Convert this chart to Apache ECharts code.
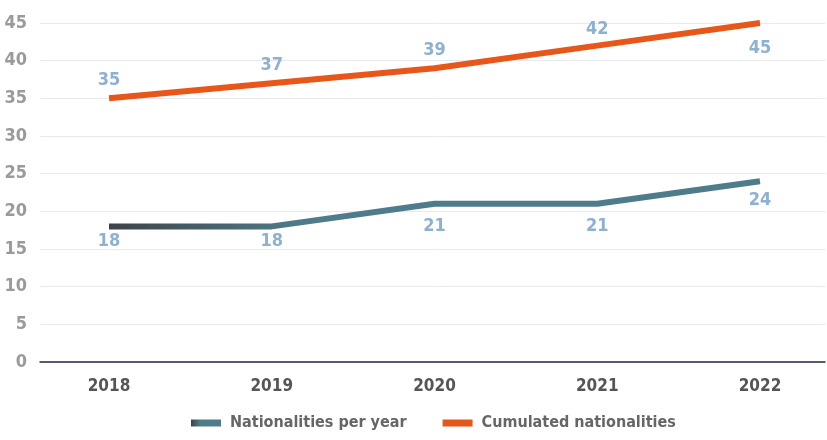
<!DOCTYPE html>
<html>
<head>
<meta charset="utf-8">
<script src="https://cdn.jsdelivr.net/npm/echarts@6/dist/echarts.min.js"></script>
<style>
  html, body { margin: 0; padding: 0; background: #fff; }
  #chart { width: 827px; height: 440px; }
</style>
</head>
<body>
<div id="chart"></div>
<script>
var years = ['2018', '2019', '2020', '2021', '2022'];
var perYear = [18, 18, 21, 21, 24];
var cumulated = [35, 37, 39, 42, 45];
var yMin = 0, yMax = 45, yStep = 5;

var FONT = "'Liberation Sans Narrow', 'DejaVu Sans Condensed', sans-serif";
var labelBlue = '#8eb0d1';

// label gaps as placed in the original
var perYearGap = [6, 6, 14, 14, 10];
var cumGap = [9, 9, 9, 7, 16];

var myChart = echarts.init(document.getElementById('chart'));

// teal line fades in from dark grey at the start
var tealGrad = new echarts.graphic.LinearGradient(0, 0, 1, 0, [
	{ offset: 0, color: '#3e4247' },
	{ offset: 0.3, color: '#4f7c8b' },
	{ offset: 1, color: '#4f7c8b' }
]);

var perYearData = perYear.map(function(v, i) {
	return { value: v, label: { distance: perYearGap[i] } };
});

var cumData = cumulated.map(function(v, i) {
	var last = i === cumulated.length - 1;
	return {
		value: v,
		label: { position: last ? 'bottom' : 'top', distance: cumGap[i] }
	};
});

var option = {
	animation: false,
	grid: [
		{ left: 40, right: 2, top: 23, bottom: 78 },
		{ left: 109, right: 67, top: 23, bottom: 78 }
	],
	xAxis: [{
		gridIndex: 0,
		type: 'category',
		data: years,
		boundaryGap: false,
		axisLine: { lineStyle: { color: '#1f2a44', width: 1.5 } },
		axisTick: { show: false },
		axisLabel: { show: false },
		splitLine: { show: false }
	}, {
		gridIndex: 1,
		type: 'category',
		data: years,
		boundaryGap: false,
		axisLine: { show: false },
		axisTick: { show: false },
		axisLabel: {
			margin: 16,
			color: '#555',
			fontSize: 17,
			fontWeight: 'bold',
			fontFamily: FONT
		}
	}],
	yAxis: [{
		gridIndex: 0,
		type: 'value',
		min: yMin,
		max: yMax,
		interval: yStep,
		axisLine: { show: false },
		axisTick: { show: false },
		axisLabel: {
			margin: 13,
			color: '#9a9a9a',
			fontSize: 18,
			fontWeight: 'bold',
			fontFamily: FONT
		},
		splitLine: { lineStyle: { color: '#e8e9f0', width: 1 } }
	}, {
		gridIndex: 1,
		type: 'value',
		min: yMin,
		max: yMax,
		interval: yStep,
		show: false
	}],
	legend: {
		bottom: 4,
		left: 186,
		itemGap: 36,
		itemWidth: 30,
		itemHeight: 7,
		icon: 'rect',
		textStyle: {
			color: '#666',
			fontSize: 16,
			fontWeight: 'bold',
			fontFamily: FONT,
			padding: [0, 0, 0, 4]
		},
		data: ['Nationalities per year', 'Cumulated nationalities']
	},
	series: [{
		name: 'Nationalities per year',
		type: 'line',
		xAxisIndex: 1,
		yAxisIndex: 1,
		data: perYearData,
		symbol: 'circle',
		symbolSize: 0,
		lineStyle: { width: 6, color: tealGrad },
		itemStyle: { color: tealGrad },
		label: {
			show: true,
			position: 'bottom',
			color: labelBlue,
			fontSize: 18,
			fontWeight: 'bold',
			fontFamily: FONT
		}
	}, {
		name: 'Cumulated nationalities',
		type: 'line',
		xAxisIndex: 1,
		yAxisIndex: 1,
		data: cumData,
		symbol: 'circle',
		symbolSize: 0,
		lineStyle: { width: 6, color: '#e8571a' },
		itemStyle: { color: '#e8571a' },
		label: {
			show: true,
			color: labelBlue,
			fontSize: 18,
			fontWeight: 'bold',
			fontFamily: FONT
		}
	}]
};

myChart.setOption(option);
</script>
</body>
</html>
